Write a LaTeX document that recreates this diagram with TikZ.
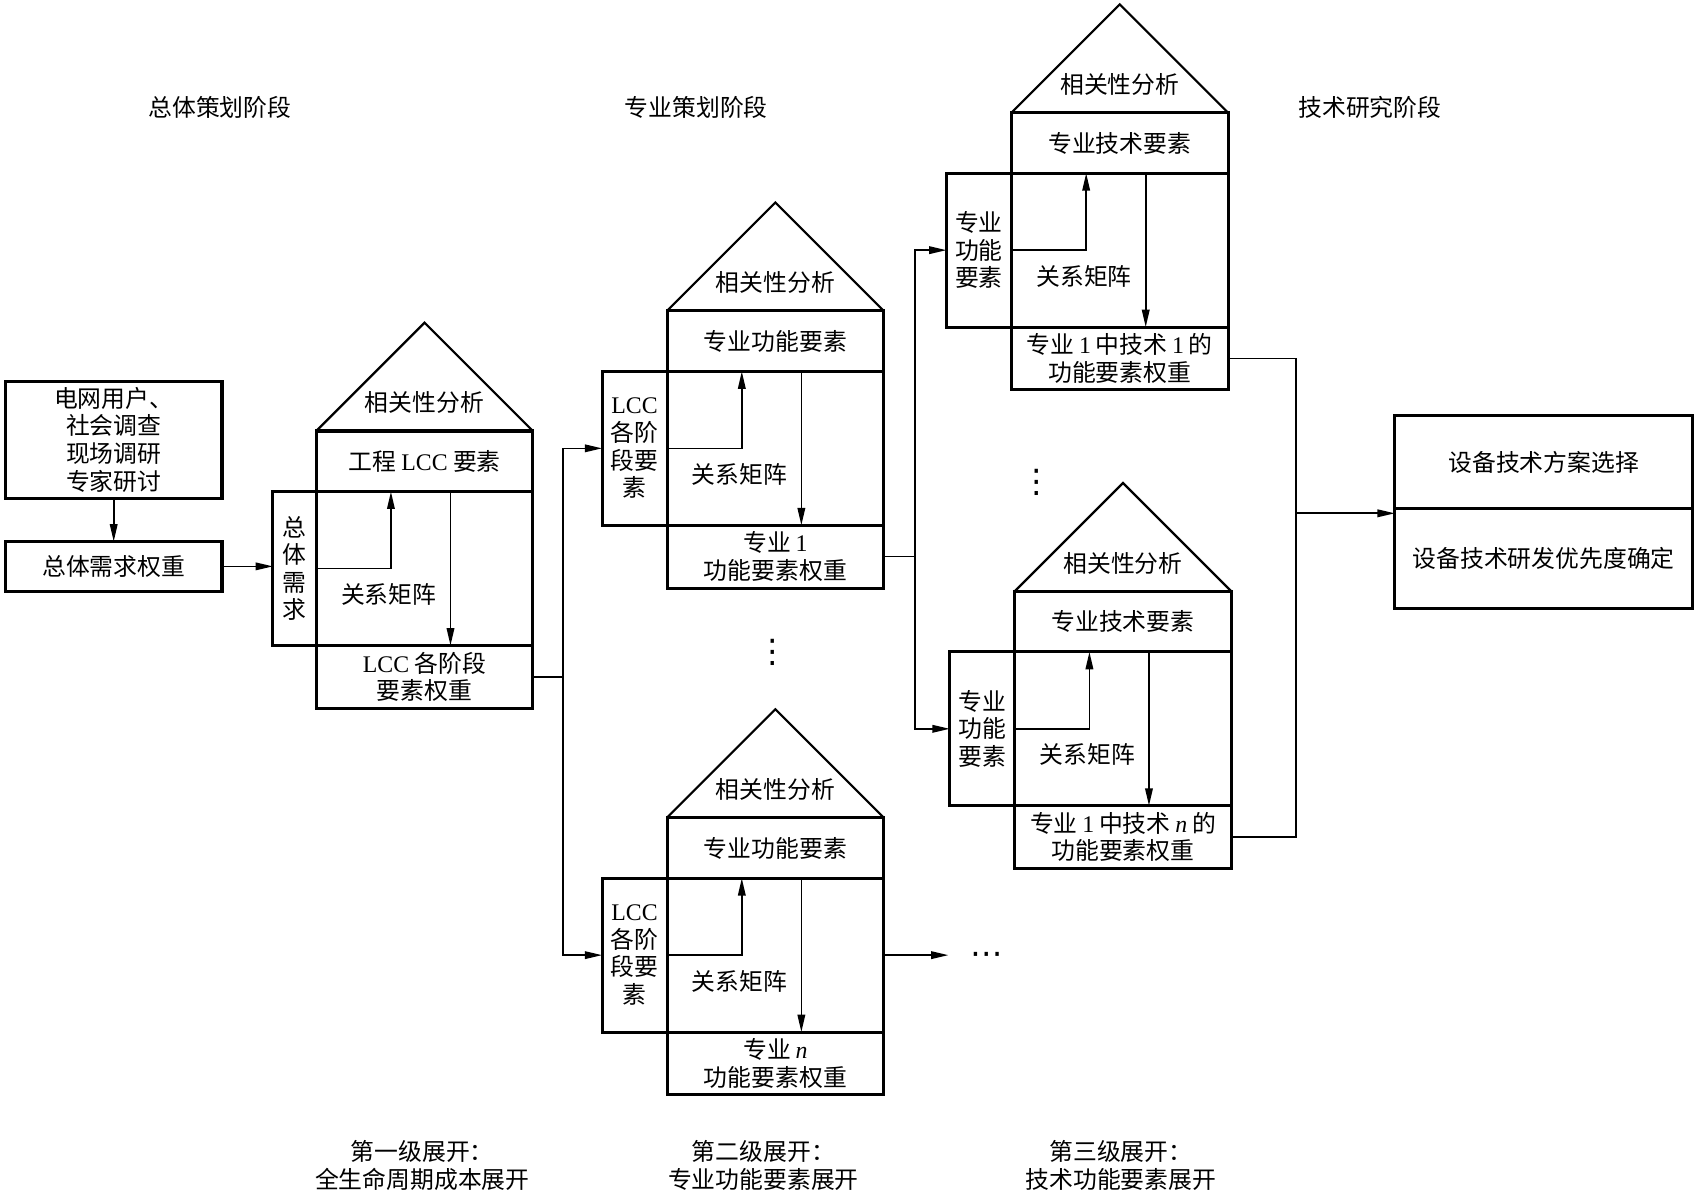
\documentclass[tikz,border=0pt]{standalone}
\usepackage{fontspec}
\setmainfont{Noto Sans CJK SC}
\newfontfamily\serifl{Liberation Serif}
\newfontfamily\dotsfont{DejaVu Sans}
\usepackage{tikz}
\usetikzlibrary{arrows.meta,positioning}
\newcommand{\lcc}{{\serifl LCC}}
\newcommand{\latn}[1]{\hspace{0.2em}{\serifl #1}\hspace{0.2em}}

\begin{document}
\begin{tikzpicture}[x=1pt, y=-1pt,
      every node/.style={font=\fontsize{22}{25.5}\selectfont, inner sep=1pt, align=center},
      cell/.style={draw, line width=2.8pt, minimum width=200pt, outer sep=0pt},
      arr/.style={line width=1.5pt, -{Triangle[length=16pt,width=7pt]}},
      wire/.style={line width=1.5pt},
      roof/.style={line width=2pt},
      gap/.style={font=\dotsfont\fontsize{30}{30}\selectfont, inner sep=0pt}]
   \useasboundingbox (0,0) rectangle (1568,1104);

   % stage titles
   \node (stage1) at (203,99) {总体策划阶段};
   \node (stage2) at (643,99) {专业策划阶段};
   \node (stage3) at (1265,99) {技术研究阶段};

   % input boxes
   \node[cell, minimum height=108pt] (survey) at (105,406) {电网用户、\\社会调查\\现场调研\\专家研讨};
   \node[cell, minimum height=46pt, below=40pt of survey] (demand) {总体需求权重};

   % houses of quality
   \foreach \n/\x/\y/\sw/\up/\side/\wgt in {
      a/292/398/40/{工程 \lcc{} 要素}/{总\\体\\需\\求}/{\lcc{} 各阶段\\要素权重},
      b/616/287/60/{专业功能要素}/{\lcc\\各阶\\段要\\素}/{专业\latn{1}\\功能要素权重},
      c/616/755/60/{专业功能要素}/{\lcc\\各阶\\段要\\素}/{专业\latn{\itshape n}\\功能要素权重},
      d/934/104/60/{专业技术要素}/{专业\\功能\\要素}/{专业\latn{1}中技术\latn{1}的\\功能要素权重},
      e/937/546/60/{专业技术要素}/{专业\\功能\\要素}/{专业\latn{1}中技术\latn{\itshape n}的\\功能要素权重}}{
      \node[cell, minimum height=56pt, anchor=north west] (top\n) at (\x,\y) {\up};
      \node[cell, minimum height=142pt, anchor=north] (mat\n) at (top\n.south) {};
      \node[cell, minimum height=58pt, anchor=north] (wgt\n) at (mat\n.south) {\wgt};
      \node[cell, minimum width=\sw pt, minimum height=142pt, anchor=north east] (side\n) at (mat\n.north west) {\side};
      \coordinate (apex\n) at ([yshift=100pt]top\n.north);
      \draw[roof] (top\n.north west) -- (apex\n) -- (top\n.north east);
      \node (roof\n) at ([yshift=26pt]top\n.north) {相关性分析};
      \draw[arr] (side\n.east) -| ([xshift=69pt]top\n.south west);
      \draw[arr] ([xshift=124pt]mat\n.north west) -- ([xshift=124pt]mat\n.south west);
      \node (rel\n) at ([xshift=67pt,yshift=-24pt]side\n.east) {关系矩阵};
   }

   % result box
   \node[cell, minimum width=275pt, minimum height=86pt, anchor=north west] (plan) at (1288,384) {设备技术方案选择};
   \node[cell, minimum width=275pt, minimum height=92pt, below=0pt of plan] (prio) {设备技术研发优先度确定};

   % omitted branches
   \node[gap] (vdotsb) at (714,602) {⋮};
   \node[gap] (vdotsd) at (957,445) {⋮};
   \node[gap] (more) at (911,885) {⋯};

   % connectors
   \draw[arr] (survey) -- (demand);
   \draw[arr] (demand.east) -- (demand.east -| sidea.west);
   \coordinate (j1) at ([xshift=28pt]wgta.east);
   \draw[wire] (wgta.east) -- (j1);
   \draw[arr] (j1) |- (sideb.west);
   \draw[arr] (j1) |- (sidec.west);
   \coordinate (j2) at ([xshift=29pt]wgtb.east);
   \draw[wire] (wgtb.east) -- (j2);
   \draw[arr] (j2) |- (sided.west);
   \draw[arr] (j2) |- (sidee.west);
   \draw[arr, shorten >=20pt] (sidec.east -| matc.east) -- (more.west |- sidec.east);
   \coordinate (j3) at (1197,474);
   \draw[wire] (wgtd.east) -| (j3);
   \draw[wire] (wgte.east) -| (j3);
   \draw[arr] (j3) -- (j3 -| prio.west);

   % level captions
   \node (lvl1) at (390,1076) {第一级展开：\\全生命周期成本展开};
   \node (lvl2) at (705,1076) {第二级展开：\\专业功能要素展开};
   \node (lvl3) at (1035,1076) {第三级展开：\\技术功能要素展开};
\end{tikzpicture}
\end{document}
